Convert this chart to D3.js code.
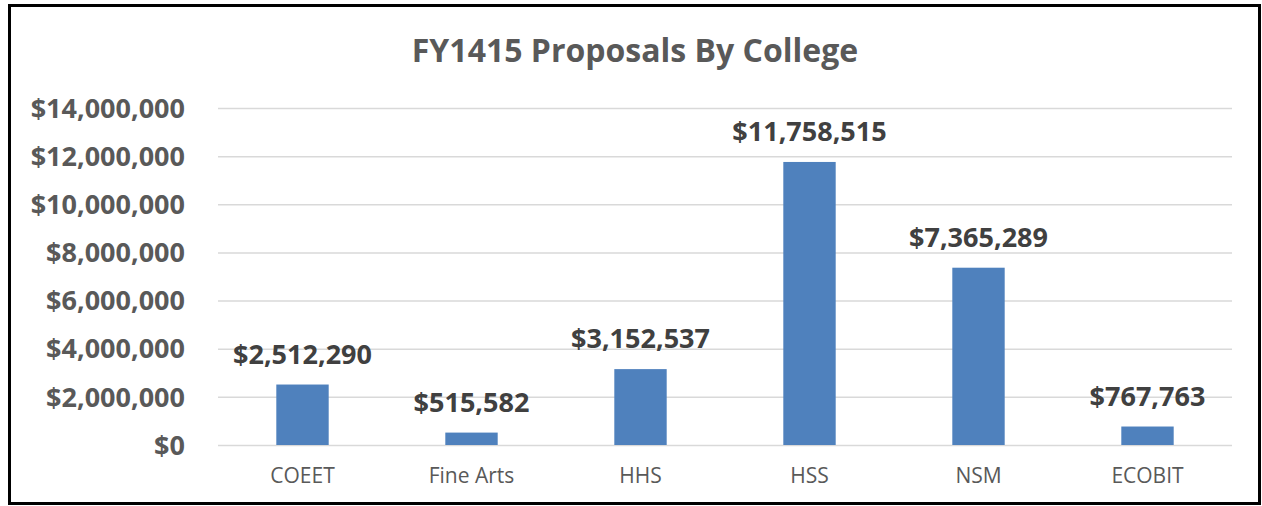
<!DOCTYPE html>
<html>
<head>
<meta charset="utf-8">
<script src="https://cdn.jsdelivr.net/npm/d3@7"></script>
<style>
  html, body { margin: 0; padding: 0; background: #fff; }
  svg { display: block; font-family: 'Open Sans', sans-serif; }
</style>
</head>
<body>
<svg width="1262" height="506"></svg>
<script>
// chart data
const title = 'FY1415 Proposals By College';
const colleges = ['COEET', 'Fine Arts', 'HHS', 'HSS', 'NSM', 'ECOBIT'];
const proposals = [2512290, 515582, 3152537, 11758515, 7365289, 767763];
const yTicks = [0, 2000000, 4000000, 6000000, 8000000, 10000000, 12000000, 14000000];

const svg = d3.select('svg');
const width = 1262, height = 506;

// frame round the chart
svg.append('rect')
  .attr('x', 9.5).attr('y', 5.5)
  .attr('width', 1250).attr('height', 498)
  .attr('fill', '#fff')
  .attr('stroke', '#000')
  .attr('stroke-width', 3);

const plot = { left: 218, right: 1232, top: 108, bottom: 445 };

const x = d3.scaleBand()
  .domain(colleges)
  .range([plot.left, plot.right])
  .paddingInner(0.69)
  .paddingOuter(0.345);

const y = d3.scaleLinear()
  .domain([0, 14000000])
  .range([plot.bottom, plot.top]);

const money = (d) => '$' + d3.format(',')(d);

// title
svg.append('text')
  .attr('x', 635)
  .attr('y', 62)
  .attr('text-anchor', 'middle')
  .attr('font-size', 32)
  .attr('font-weight', 'bold')
  .attr('fill', '#595959')
  .text(title);

// y axis with gridlines
const yAxis = svg.append('g')
  .attr('transform', `translate(${plot.left},0)`)
  .call(
    d3.axisLeft(y)
      .tickValues(yTicks)
      .tickSize(-(plot.right - plot.left))
      .tickPadding(33)
      .tickFormat(money)
  );
yAxis.select('.domain').remove();
yAxis.selectAll('.tick line').attr('stroke', '#d9d9d9').attr('stroke-width', 1.5);
yAxis.selectAll('.tick text')
  .attr('font-family', "'Open Sans', sans-serif")
  .attr('font-size', 27)
  .attr('font-weight', 'bold')
  .attr('fill', '#595959')
  .attr('dy', '0.34em');

// x axis labels
const xAxis = svg.append('g')
  .attr('transform', `translate(0,${plot.bottom})`)
  .call(d3.axisBottom(x).tickSize(0).tickPadding(0));
xAxis.select('.domain').remove();
xAxis.selectAll('.tick text')
  .attr('font-family', "'Open Sans', sans-serif")
  .attr('font-size', 21)
  .attr('fill', '#595959')
  .attr('dy', null)
  .attr('y', 38);

// bars
svg.append('g')
  .selectAll('rect')
  .data(proposals)
  .join('rect')
  .attr('x', (d, i) => x(colleges[i]))
  .attr('y', (d) => y(d))
  .attr('width', x.bandwidth())
  .attr('height', (d) => y(0) - y(d))
  .attr('fill', '#4f81bd');

// value labels
svg.append('g')
  .selectAll('text')
  .data(proposals)
  .join('text')
  .attr('x', (d, i) => x(colleges[i]) + x.bandwidth() / 2)
  .attr('y', (d) => y(d) - 21)
  .attr('text-anchor', 'middle')
  .attr('font-size', 27)
  .attr('font-weight', 'bold')
  .attr('fill', '#404040')
  .text(money);
</script>
</body>
</html>
